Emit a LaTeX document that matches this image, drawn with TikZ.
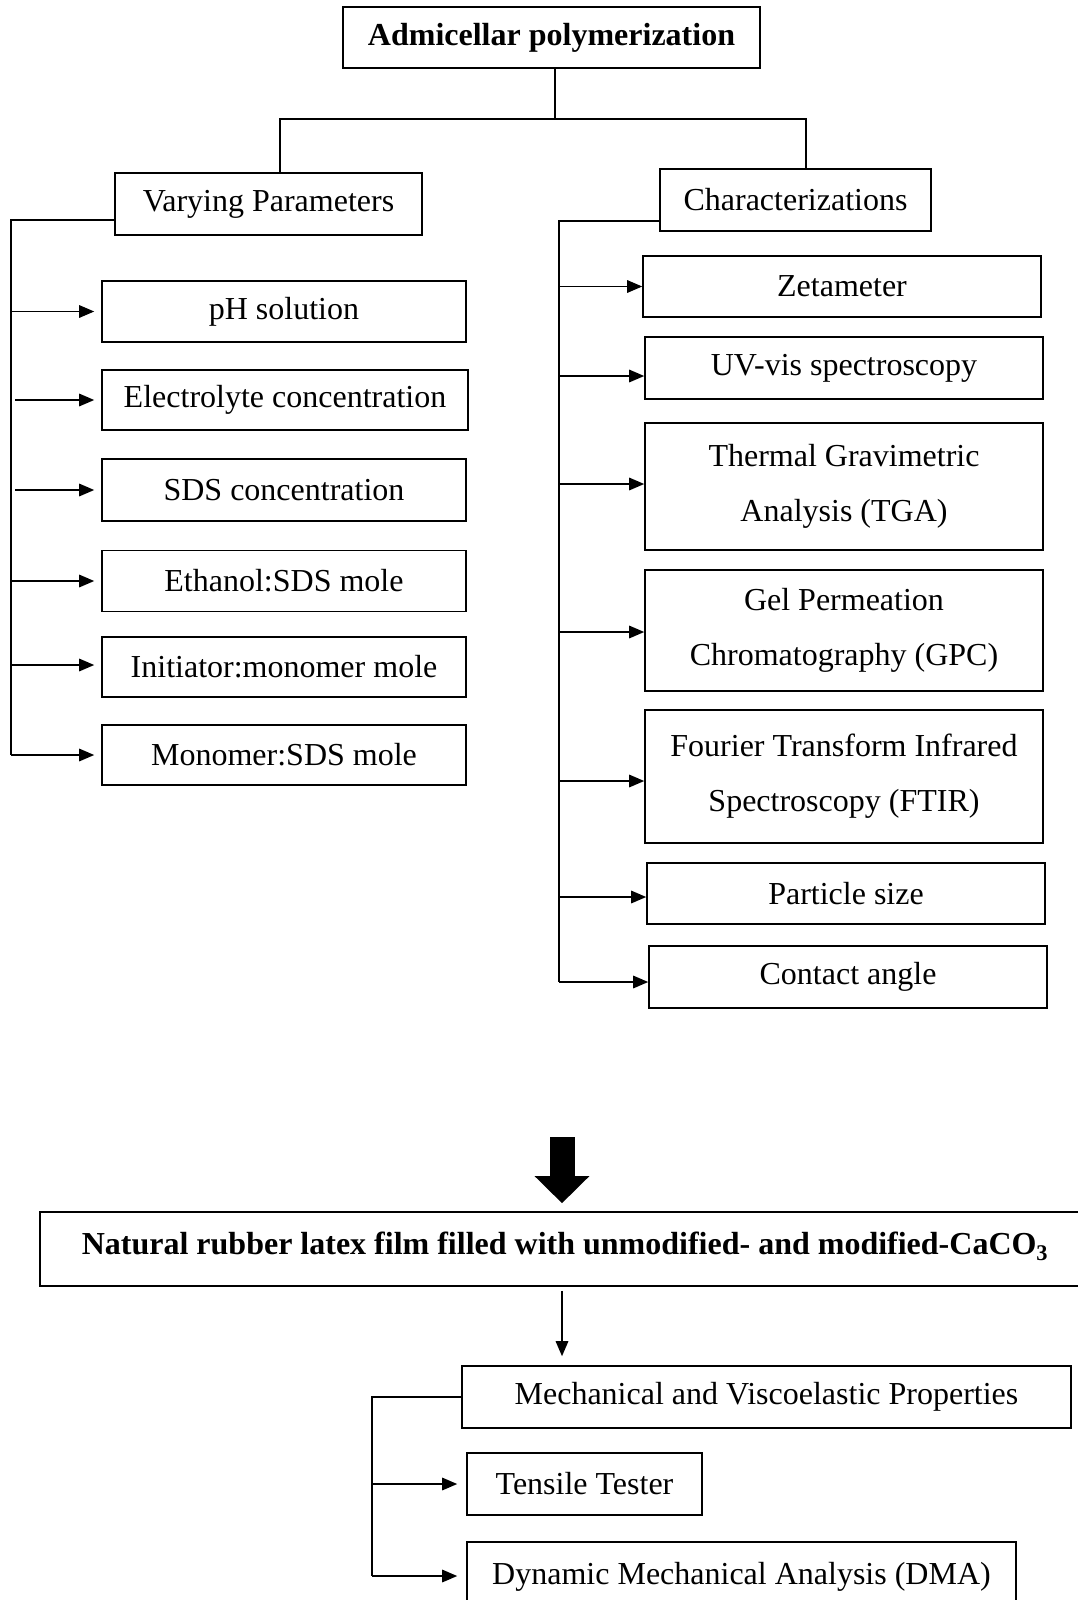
\documentclass[tikz,border=0pt]{standalone}
\usepackage{fontspec}
\setmainfont{Liberation Serif}
\usetikzlibrary{arrows.meta}
\begin{document}
\begin{tikzpicture}[x=1pt,y=-1pt,
  box/.style={draw, line width=1.6pt, inner sep=0pt, align=center, font=\fontsize{32}{55}\selectfont},
  bbox/.style={box, font=\fontsize{32}{55}\selectfont\bfseries},
  ln/.style={line width=1.5pt},
  arr/.style={line width=1.5pt, -{Triangle[length=15pt,width=12.5pt]}},
  bigarr/.style={line width=25pt, -{Triangle[length=27pt,width=53pt]}}]
\useasboundingbox (0,0) rectangle (1077,1600);
\fill[white] (0,0) rectangle (1077,1600);

% top
\node[bbox, minimum width=417pt, minimum height=61pt] (top) at (551.5,37.5) {Admicellar polymerization};
\node[box, minimum width=307pt, minimum height=62pt] (vp) at (268.5,204) {Varying Parameters};
\node[box, minimum width=271pt, minimum height=62pt] (ch) at (795.5,200) {Characterizations};

% left column
\node[box, minimum width=364pt, minimum height=61pt] (ph) at (284,311.5) {pH solution};
\node[box, minimum width=366pt, minimum height=60pt] (elec) at (285,400) {Electrolyte concentration};
\node[box, minimum width=364pt, minimum height=62pt] (sds) at (284,490) {SDS concentration};
\node[box, minimum width=364pt, minimum height=61pt] (eth) at (284,581) {Ethanol:SDS mole};
\node[box, minimum width=364pt, minimum height=60pt] (init) at (284,667) {Initiator:monomer mole};
\node[box, minimum width=364pt, minimum height=60pt] (mono) at (284,755) {Monomer:SDS mole};

% right column
\node[box, minimum width=398pt, minimum height=61pt] (zeta) at (842,286.5) {Zetameter};
\node[box, minimum width=398pt, minimum height=62pt] (uv) at (844,368) {UV-vis spectroscopy};
\node[box, minimum width=398pt, minimum height=127pt] (tga) at (844,486.5) {Thermal Gravimetric\\Analysis (TGA)};
\node[box, minimum width=398pt, minimum height=121pt] (gpc) at (844,630.5) {Gel Permeation\\Chromatography (GPC)};
\node[box, minimum width=398pt, minimum height=133pt] (ftir) at (844,776.5) {Fourier Transform Infrared\\Spectroscopy (FTIR)};
\node[box, minimum width=398pt, minimum height=61pt] (part) at (846,893.5) {Particle size};
\node[box, minimum width=398pt, minimum height=62pt] (cont) at (848,977) {Contact angle};

% bottom
\node[bbox, minimum width=1050pt, minimum height=74pt, text depth=12pt] (nr) at (565,1249) {Natural rubber latex film filled with unmodified- and modified-CaCO\textsubscript{3}};
\node[box, minimum width=609pt, minimum height=62pt] (mech) at (766.5,1397) {Mechanical and Viscoelastic Properties};
\node[box, minimum width=235pt, minimum height=62pt] (tens) at (584.5,1484) {Tensile Tester};
\node[box, minimum width=549pt, minimum height=70pt] (dma) at (741.5,1577) {Dynamic Mechanical Analysis (DMA)};

% top connectors
\coordinate (split) at (555,119);
\coordinate (jL) at (280,119);
\coordinate (jR) at (806,119);
\draw[ln] (top.south -| split) -- (split);
\draw[ln] (vp.north -| jL) -- (jL) -- (jR) -- (ch.north -| jR);

% left bus
\coordinate (busL) at (11,0);
\coordinate (busL2) at (15,0);
\draw[ln] ([yshift=-16pt]vp.west) -- ([yshift=-16pt]vp.west -| busL) -- (mono.west -| busL);
\draw[arr, shorten >=7pt] (ph.west -| busL) -- (ph.west);
\draw[arr, shorten >=7pt] (elec.west -| busL2) -- (elec.west);
\draw[arr, shorten >=7pt] (sds.west -| busL2) -- (sds.west);
\draw[arr, shorten >=7pt] (eth.west -| busL) -- (eth.west);
\draw[arr, shorten >=7pt] ([yshift=2pt]init.west -| busL) -- ([yshift=2pt]init.west);
\draw[arr, shorten >=7pt] (mono.west -| busL) -- (mono.west);

% right bus
\coordinate (busR) at (559,0);
\draw[ln] ([yshift=-21pt]ch.west) -- ([yshift=-21pt]ch.west -| busR) -- ([yshift=-5pt]cont.west -| busR);
\draw[arr] (zeta.west -| busR) -- (zeta.west);
\draw[arr] ([yshift=-8pt]uv.west -| busR) -- ([yshift=-8pt]uv.west);
\draw[arr] ([yshift=2.5pt]tga.west -| busR) -- ([yshift=2.5pt]tga.west);
\draw[arr] ([yshift=-1.5pt]gpc.west -| busR) -- ([yshift=-1.5pt]gpc.west);
\draw[arr] ([yshift=-4.5pt]ftir.west -| busR) -- ([yshift=-4.5pt]ftir.west);
\draw[arr] ([yshift=-3.5pt]part.west -| busR) -- ([yshift=-3.5pt]part.west);
\draw[arr] ([yshift=-5pt]cont.west -| busR) -- ([yshift=-5pt]cont.west);

% big arrow
\coordinate (bigtop) at (562,1137);
\draw[bigarr] (bigtop) -- ([yshift=8pt]nr.north -| bigtop);

% small arrow
\coordinate (xmid) at (562,0);
\draw[arr, shorten <=4pt, shorten >=9pt] (nr.south -| xmid) -- (mech.north -| xmid);

% mech bus
\coordinate (busM) at (372,0);
\draw[ln] (mech.west) -- (mech.west -| busM) -- ([yshift=1pt]dma.west -| busM);
\draw[arr, shorten >=9pt] (tens.west -| busM) -- (tens.west);
\draw[arr, shorten >=9pt] ([yshift=1pt]dma.west -| busM) -- ([yshift=1pt]dma.west);
\end{tikzpicture}
\end{document}
